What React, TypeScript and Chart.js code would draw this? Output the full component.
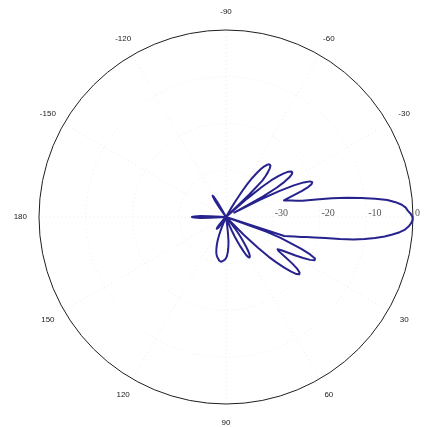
import React, { useEffect, useRef } from "react";
import { Chart, registerables } from "chart.js";

Chart.register(...registerables);

// Azimuth of every sample, in degrees: 0 points right, angles grow clockwise.
const ANGLES_DEG = Array.from({ length: 360 }, (_, i) => i);

// Normalised radiation pattern in dB, one sample per degree (index = azimuth).
const GAIN_DB = [
  // 0 - 9
  -0.1, -0.1, -0.4, -0.9, -1.6, -2.7, -4.2, -5.8, -7.8, -10,
  // 10 - 19
  -12.3, -15.2, -18.3, -20.6, -22.3, -23.4, -24.8, -26, -26.9, -40,
  // 20 - 29
  -30.7, -27.5, -25, -22.5, -20.3, -19, -18.9, -19.8, -21.3, -23,
  // 30 - 39
  -24.8, -26.2, -27, -26.5, -24.8, -22.8, -21.2, -20.3, -20.1, -20.6,
  // 40 - 49
  -21.8, -23.5, -25.5, -27.5, -30.5, -34.5, -40, -40, -40, -40,
  // 50 - 59
  -40, -38.5, -37, -35.7, -34.5, -33.3, -32.2, -31.2, -30.5, -30.1,
  // 60 - 69
  -30, -30.2, -30.8, -31.8, -33, -34.2, -35.5, -36.8, -38, -39.2,
  // 70 - 79
  -40, -40, -40, -40, -40, -40, -40, -40, -40, -40,
  // 80 - 89
  -40, -40, -38.5, -36.5, -35, -34, -33.2, -32.5, -32, -31.5,
  // 90 - 99
  -31.2, -31, -30.8, -30.7, -30.6, -30.5, -30.4, -30.4, -30.5, -30.6,
  // 100 - 109
  -30.8, -31, -31.2, -31.4, -31.7, -32, -32.5, -33, -33.6, -34.3,
  // 110 - 119
  -35, -36, -37.2, -38.6, -40, -40, -40, -40, -40, -40,
  // 120 - 129
  -40, -40, -40, -39, -38.2, -37.5, -37.1, -36.9, -36.8, -36.9,
  // 130 - 139
  -37.2, -37.7, -38.4, -39.2, -40, -40, -40, -40, -40, -40,
  // 140 - 149
  -40, -40, -40, -40, -40, -40, -40, -40, -40, -40,
  // 150 - 159
  -40, -40, -40, -40, -40, -40, -40, -40, -40, -40,
  // 160 - 169
  -40, -40, -40, -40, -40, -40, -40, -40, -40, -40,
  // 170 - 179
  -40, -40, -40, -40, -40, -40, -40, -36.5, -34.5, -33.2,
  // 180 - 189
  -32.7, -33.2, -34.5, -36.5, -40, -40, -40, -40, -40, -40,
  // 190 - 199
  -40, -40, -40, -40, -40, -40, -40, -40, -40, -40,
  // 200 - 209
  -40, -40, -40, -40, -40, -40, -40, -40, -40, -40,
  // 210 - 219
  -40, -40, -40, -40, -40, -40, -40, -40, -40, -40,
  // 220 - 229
  -40, -40, -40, -40, -40, -40, -40, -40, -40, -40,
  // 230 - 239
  -40, -40, -40, -40, -40, -37.5, -35.8, -35, -34.6, -35,
  // 240 - 249
  -36.3, -38.2, -40, -40, -40, -40, -40, -40, -40, -40,
  // 250 - 259
  -40, -40, -40, -40, -40, -40, -40, -40, -40, -40,
  // 260 - 269
  -40, -40, -40, -40, -40, -40, -40, -40, -40, -40,
  // 270 - 279
  -40, -40, -40, -40, -40, -40, -40, -40, -40, -40,
  // 280 - 289
  -40, -40, -40, -40, -40, -40, -40, -40, -40, -40,
  // 290 - 299
  -40, -40, -40, -40, -40, -40, -40, -40, -40, -40,
  // 300 - 309
  -38, -36, -33.5, -31.5, -29.8, -28.5, -27.4, -26.5, -25.9, -25.5,
  // 310 - 319
  -25.4, -25.5, -26, -26.8, -27.8, -29, -33, -40, -40, -34,
  // 320 - 329
  -30, -27.5, -25.8, -24.5, -23.5, -23, -22.9, -23.2, -24, -25.5,
  // 330 - 339
  -27.5, -31, -38, -32, -27.5, -24, -21.8, -20.5, -20.1, -20.4,
  // 340 - 349
  -21.3, -22.8, -24.5, -26, -27.1, -26.4, -25.5, -24.6, -23.3, -20.3,
  // 350 - 359
  -17, -13.8, -10.8, -7.8, -5.3, -3.6, -2.3, -1.5, -1.1, -0.5,
];

const R_MIN = -40;
const R_MAX = 0;
const R_STEP = 10;

// Radial (dB) labels written along the 0° spoke.
const RADIAL_TICKS = [-30, -20, -10, 0];
// Azimuth labels placed just outside the outer ring.
const ANGLE_TICKS = [30, 60, 90, 120, 150, 180, -150, -120, -90, -60, -30];

const GRID_FAINT = "#e7ebf2";

const polarLabels = {
  id: "polarLabels",
  afterDraw(chart: any) {
    const scale = chart.scales.r;
    const ctx = chart.ctx as CanvasRenderingContext2D;
    ctx.save();
    ctx.fillStyle = "#1a1a1a";
    ctx.font = '8px "Liberation Sans", Arial, sans-serif';
    ctx.textAlign = "center";
    ctx.textBaseline = "middle";
    for (const deg of ANGLE_TICKS) {
      const idx = (deg + 360) % 360;
      const p = scale.getPointPosition(idx, scale.drawingArea * 1.1);
      ctx.fillText(String(deg), p.x, p.y);
    }
    ctx.font = '10px "Liberation Serif", "Times New Roman", serif';
    ctx.fillStyle = "#555";
    ctx.textAlign = "left";
    for (const v of RADIAL_TICKS) {
      const d = scale.getDistanceFromCenterForValue(v);
      ctx.fillText(String(v), scale.xCenter + d + 2, scale.yCenter - 4);
    }
    ctx.restore();
  },
};

export default function App() {
  const canvasRef = useRef<HTMLCanvasElement | null>(null);

  useEffect(() => {
    const canvas = canvasRef.current;
    if (!canvas) return;
    const chart = new Chart(canvas, {
      type: "radar",
      data: {
        labels: ANGLES_DEG.map(String),
        datasets: [
          {
            data: GAIN_DB,
            borderColor: "#27228e",
            borderWidth: 2,
            pointRadius: 0,
            pointHoverRadius: 0,
            fill: false,
            tension: 0,
          },
        ],
      },
      options: {
        responsive: false,
        animation: false,
        layout: { padding: { left: 39, right: 13, top: 30, bottom: 23 } },
        plugins: {
          legend: { display: false },
          tooltip: { enabled: false },
        },
        elements: { line: { borderJoinStyle: "round" } },
        scales: {
          r: {
            min: R_MIN,
            max: R_MAX,
            startAngle: 90,
            ticks: { display: false, stepSize: R_STEP },
            pointLabels: { display: false },
            grid: {
              circular: true,
              color: (c: any) =>
                c.tick && c.tick.value === R_MAX
                  ? "#1e1e1e"
                  : c.tick && c.tick.value === R_MIN
                  ? "rgba(0,0,0,0)"
                  : GRID_FAINT,
              lineWidth: 1,
            },
            border: {
              dash: (c: any) => (c.tick && c.tick.value === R_MAX ? [] : [1, 3]),
            },
            angleLines: {
              color: (c: any) => (c.index % 30 === 0 ? GRID_FAINT : "rgba(0,0,0,0)"),
              lineWidth: (c: any) => (c.index % 30 === 0 ? 1 : 0),
              borderDash: [1, 3],
            },
          },
        },
      } as any,
      plugins: [polarLabels],
    });
    return () => chart.destroy();
  }, []);

  return (
    <div style={{ position: "absolute", left: 0, top: 0, width: 426, height: 427, background: "#fff" }}>
      <canvas ref={canvasRef} width={426} height={427} style={{ display: "block" }} />
    </div>
  );
}
